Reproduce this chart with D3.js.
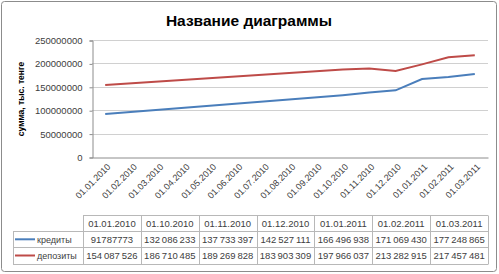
<!DOCTYPE html>
<html>
<head>
<meta charset="utf-8">
<script src="https://cdn.jsdelivr.net/npm/d3@7"></script>
<style>
  body { margin: 0; background: #fff; }
  svg { font-family: "Liberation Sans", Arial, sans-serif; }
</style>
</head>
<body>
<div class="chart"></div>
<script>
// months on the axis
var months = ['01.01.2010','01.02.2010','01.03.2010','01.04.2010','01.05.2010',
  '01.06.2010','01.07.2010','01.08.2010','01.09.2010','01.10.2010',
  '01.11.2010','01.12.2010','01.01.2011','01.02.2011','01.03.2011'];

// dates that have data
var dates = ['01.01.2010','01.10.2010','01.11.2010','01.12.2010','01.01.2011','01.02.2011','01.03.2011'];
var credits = [91787773, 132086233, 137733397, 142527111, 166496938, 171069430, 177248865];
var deposits = [154087526, 186710485, 189269828, 183903309, 197966037, 213282915, 217457481];

var yTicks = [0, 50000000, 100000000, 150000000, 200000000, 250000000];

var series = [
  {name: 'кредиты', values: credits, color: '#4a7ebb'},
  {name: 'депозиты', values: deposits, color: '#be4b48'}
];

var W = 499, H = 274;
var plot = {left: 92, right: 488, top: 40, bottom: 157};
var textColor = '#404040';

var svg = d3.select('.chart').append('svg')
  .attr('width', W)
  .attr('height', H);

// outer frame
svg.append('rect')
  .attr('x', 1.5).attr('y', 1.5)
  .attr('width', W - 4).attr('height', H - 4)
  .attr('rx', 3)
  .attr('fill', '#fff')
  .attr('stroke', '#8c8c8c');

// title
svg.append('text')
  .attr('x', 249).attr('y', 26)
  .attr('text-anchor', 'middle')
  .attr('font-size', 15.5)
  .attr('font-weight', 'bold')
  .attr('fill', '#000')
  .text('Название диаграммы');

var x = d3.scaleBand().domain(months).range([plot.left, plot.right]);
var y = d3.scaleLinear().domain([0, 250000000]).range([plot.bottom, plot.top]);

// gridlines
svg.append('g')
  .selectAll('line')
  .data(yTicks.slice(1))
  .enter().append('line')
  .attr('x1', plot.left).attr('x2', plot.right)
  .attr('y1', function(d) { return Math.round(y(d)) + 0.5; })
  .attr('y2', function(d) { return Math.round(y(d)) + 0.5; })
  .attr('stroke', '#d0d0d0');

// y axis
var yAxis = svg.append('g')
  .attr('transform', 'translate(' + (plot.left + 0.5) + ',0.5)')
  .call(d3.axisLeft(y).tickValues(yTicks).tickFormat(d3.format('d')).tickSize(3).tickPadding(7));
yAxis.select('.domain').attr('stroke', '#8c8c8c');
yAxis.selectAll('line').attr('stroke', '#8c8c8c');
yAxis.selectAll('text')
  .attr('font-size', 9.5)
  .attr('font-family', '"Liberation Sans", Arial, sans-serif')
  .attr('fill', textColor);

// x axis
var xAxis = svg.append('g')
  .attr('transform', 'translate(0,' + (plot.bottom + 0.5) + ')')
  .call(d3.axisBottom(x).tickSize(0).tickSizeOuter(0).tickPadding(7));
xAxis.select('.domain').attr('stroke', '#8c8c8c');
xAxis.selectAll('text')
  .attr('font-size', 9)
  .attr('font-family', '"Liberation Sans", Arial, sans-serif')
  .attr('fill', textColor)
  .attr('text-anchor', 'end')
  .attr('dy', 0)
  .attr('transform', 'translate(1,5) rotate(-45)');

// y axis title
svg.append('text')
  .attr('transform', 'translate(24,99) rotate(-90)')
  .attr('text-anchor', 'middle')
  .attr('font-size', 8.5)
  .attr('font-weight', 'bold')
  .attr('fill', '#000')
  .text('сумма, тыс. тенге');

// lines
var line = d3.line()
  .x(function(d, i) { return x(dates[i]) + x.bandwidth() / 2; })
  .y(function(d) { return y(d); });

svg.append('g')
  .selectAll('path')
  .data(series)
  .enter().append('path')
  .attr('d', function(s) { return line(s.values); })
  .attr('fill', 'none')
  .attr('stroke', function(s) { return s.color; })
  .attr('stroke-width', 2);

// data table
var tbl = {left: 13, first: 83, right: 488, top: 215, rowH: 16.2};
var colW = (tbl.right - tbl.first) / dates.length;
var rowsY = [0, 1, 2, 3].map(function(i) { return tbl.top + i * tbl.rowH; });
var grp = d3.formatLocale({decimal: ',', thousands: '\u2009', grouping: [3], currency: ['', '']}).format(',d');
var fmt = function(v, si, i) { return (si === 0 && i === 0) ? String(v) : grp(v); };

var table = svg.append('g').attr('stroke', '#b8b8b8').attr('fill', 'none');
// horizontal lines
table.selectAll('.h')
  .data(rowsY)
  .enter().append('line')
  .attr('x1', function(d, i) { return i === 0 ? tbl.first : tbl.left; })
  .attr('x2', tbl.right)
  .attr('y1', function(d) { return Math.round(d) + 0.5; })
  .attr('y2', function(d) { return Math.round(d) + 0.5; });
// vertical lines
table.selectAll('.v')
  .data(d3.range(dates.length + 1))
  .enter().append('line')
  .attr('x1', function(i) { return Math.round(tbl.first + i * colW) + 0.5; })
  .attr('x2', function(i) { return Math.round(tbl.first + i * colW) + 0.5; })
  .attr('y1', Math.round(rowsY[0]) + 0.5)
  .attr('y2', Math.round(rowsY[3]) + 0.5);
table.append('line')
  .attr('x1', tbl.left + 0.5).attr('x2', tbl.left + 0.5)
  .attr('y1', Math.round(rowsY[1]) + 0.5)
  .attr('y2', Math.round(rowsY[3]) + 0.5);

// header row
svg.append('g')
  .selectAll('text')
  .data(dates)
  .enter().append('text')
  .attr('x', function(d, i) { return tbl.first + (i + 0.5) * colW; })
  .attr('y', rowsY[0] + tbl.rowH / 2 + 3.5)
  .attr('text-anchor', 'middle')
  .attr('font-size', 9.5)
  .attr('fill', textColor)
  .text(function(d) { return d; });

// series rows
series.forEach(function(s, si) {
  var ry = rowsY[si + 1] + tbl.rowH / 2;
  svg.append('line')
    .attr('x1', 15).attr('x2', 35)
    .attr('y1', ry).attr('y2', ry)
    .attr('stroke', s.color)
    .attr('stroke-width', 2);
  svg.append('text')
    .attr('x', 37).attr('y', ry + 3.5)
    .attr('font-size', 9)
    .attr('fill', textColor)
    .text(s.name);
  svg.append('g')
    .selectAll('text')
    .data(s.values)
    .enter().append('text')
    .attr('x', function(d, i) { return tbl.first + (i + 0.5) * colW; })
    .attr('y', ry + 3.5)
    .attr('text-anchor', 'middle')
    .attr('font-size', 9.5)
    .attr('fill', textColor)
    .text(function(d, i) { return fmt(d, si, i); });
});
</script>
</body>
</html>
